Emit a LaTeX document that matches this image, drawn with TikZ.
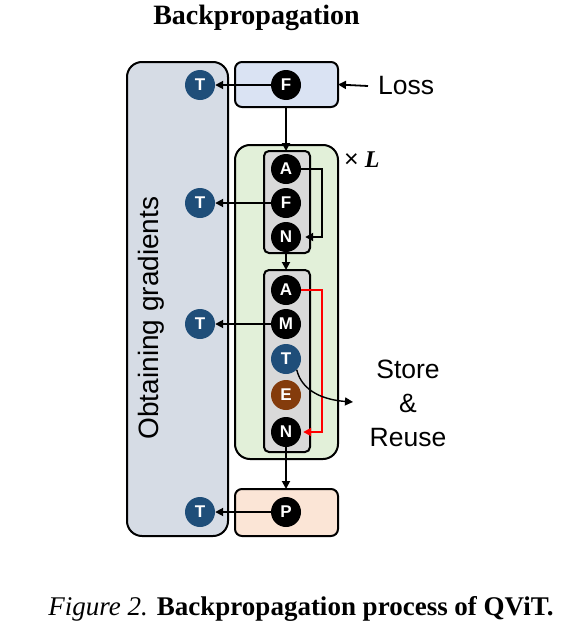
\documentclass[tikz,border=0pt]{standalone}
\usepackage{fontspec}
\setmainfont{Liberation Serif}
\newfontfamily\arial{Liberation Sans}
\usetikzlibrary{arrows.meta,calc}
\definecolor{gradbg}{HTML}{D6DCE5}
\definecolor{lossbg}{HTML}{DAE3F3}
\definecolor{layerbg}{HTML}{E2F0D9}
\definecolor{patchbg}{HTML}{FBE5D6}
\definecolor{blockbg}{HTML}{D9D9D9}
\definecolor{tblue}{HTML}{1F4E79}
\definecolor{ebrown}{HTML}{843C0C}
\tikzset{
  bigbox/.style={draw=black,line width=2pt,inner sep=0pt,outer sep=0pt},
  blockbox/.style={draw=black,line width=2pt,fill=blockbg,rounded corners=5pt,inner sep=0pt,outer sep=0pt,minimum width=46pt},
  op/.style={circle,fill=black,minimum size=30pt,inner sep=0pt,text=white,font=\arial\bfseries\fontsize{17}{17}\selectfont},
  tnode/.style={op,fill=tblue},
  enode/.style={op,fill=ebrown},
  arr/.style={line width=1.8pt,-{Triangle[length=8pt,width=8pt]}},
  lbl/.style={font=\arial\fontsize{26.5}{34}\selectfont},
}
\begin{document}
\begin{tikzpicture}[x=1pt,y=-1pt]
\useasboundingbox (0,0) rectangle (568,632);
% title
\node[anchor=base,font=\bfseries\fontsize{28}{30}\selectfont] (title) at (256.5,24) {Backpropagation};
% boxes
\node[bigbox,fill=gradbg,rounded corners=15pt,minimum width=101pt,minimum height=474pt] (grad) at (177.5,299) {};
\node[rotate=90,anchor=base,font=\arial\fontsize{28}{34}\selectfont] (gradtxt) at (158,318) {Obtaining gradients};
\node[bigbox,fill=lossbg,rounded corners=7pt,minimum width=103pt,minimum height=45pt] (top) at (286.5,84.5) {};
\node[bigbox,fill=layerbg,rounded corners=15pt,minimum width=103pt,minimum height=314pt] (layer) at (286.5,302) {};
\node[bigbox,fill=patchbg,rounded corners=7pt,minimum width=103pt,minimum height=47pt] (patch) at (286.5,512.5) {};
\node[blockbox,minimum height=102pt] (g1) at (287,202) {};
\node[blockbox,minimum height=182pt] (g2) at (287,361) {};
% operator circles
\node[op] (f0) at (286,85) {F};
\node[op] (a1) at (286,169) {A};
\node[op] (f1) at (286,203) {F};
\node[op] (n1) at (286,237) {N};
\node[op] (a2) at (286,290) {A};
\node[op] (m2) at (286,324) {M};
\node[tnode] (ts) at (286,359) {T};
\node[enode] (e2) at (286,395) {E};
\node[op] (n2) at (286,432) {N};
\node[op] (p3) at (286,512) {P};
% T nodes
\node[tnode] (t0) at (200,85) {T};
\node[tnode] (t1) at (200,203) {T};
\node[tnode] (t2) at (200,324) {T};
\node[tnode] (t3) at (200,512) {T};
% labels
\node[lbl,anchor=west,inner sep=0pt,inner xsep=10pt] (loss) at (368,86) {Loss};
\node[anchor=west,inner sep=0pt] (times) at (344,160) {{\arial\fontsize{25}{25}\selectfont ×}\hspace{6pt}{\bfseries\itshape\fontsize{24}{24}\selectfont L}};
\node[lbl,align=center] (store) at (408,403) {Store\\\&\\Reuse};
\coordinate (se) at (353,402);
% connectors
\draw[arr] (loss.west) -- (top.east);
\draw[arr] (f0) -- (t0);
\draw[arr] (f1) -- (t1);
\draw[arr] (m2) -- (t2);
\draw[arr] (p3) -- (t3);
\draw[arr] (top.south -| f0) -- (g1.north -| f0);
\draw[arr] (g1.south -| n1) -- (g2.north -| n1);
\draw[arr] (n2.south) -- (patch.north -| n2);
\draw[arr,shorten >=4pt] (a1.east) -- ([xshift=21pt]a1.east) |- (n1.east);
\draw[arr,red,shorten >=2pt] (a2.east) -- ([xshift=21pt]a2.east) |- (n2.east);
\draw[line width=1.4pt,-{Triangle[length=8pt,width=8pt]}] (ts.-45) .. controls (302,392) and (325,400) .. (se);
% caption
\node[anchor=base,font=\fontsize{27}{30}\selectfont] (caption) at (301,615) {\textit{Figure 2.} \textbf{Backpropagation process of QViT.}};
\end{tikzpicture}
\end{document}
